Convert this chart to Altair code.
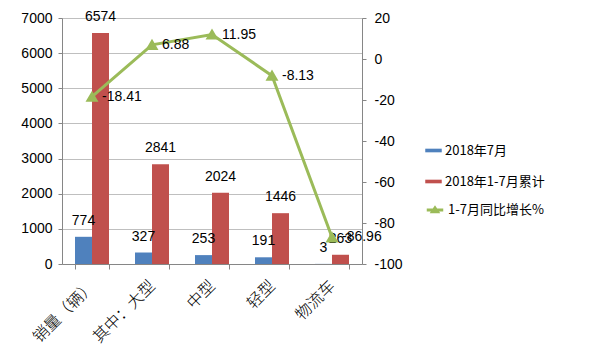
import altair as alt
import pandas as pd

categories = ["销量（辆）", "其中：大型", "中型", "轻型", "物流车"]
july_2018 = [774, 327, 253, 191, 3]
cum_2018 = [6574, 2841, 2024, 1446, 263]
growth = [-18.41, 6.88, 11.95, -8.13, -86.96]
series_names = ["2018年7月", "2018年1-7月累计"]
line_name = "1-7月同比增长%"

bar_rows = []
for c, a, b in zip(categories, july_2018, cum_2018):
    bar_rows.append({"cat": c, "series": series_names[0], "value": a})
    bar_rows.append({"cat": c, "series": series_names[1], "value": b})
bars_df = pd.DataFrame(bar_rows)
line_df = pd.DataFrame({"cat": categories, "growth": growth, "series": [line_name] * len(categories),
                        "label": [f"{g:.2f}" for g in growth]})

GRID = "#BFBFBF"
AXIS = "#868686"
NUM_FONT = "Liberation Sans"
CJK_FONT = "Noto Sans CJK SC"

xscale = alt.Scale(domain=categories, paddingInner=0.4333, paddingOuter=0.2167)
xaxis = alt.Axis(title=None, labelAngle=-45, labelAlign="right", labelBaseline="middle",
                 labelFont=CJK_FONT, labelFontSize=16, labelFontWeight=300, labelColor="#000000",
                 tickBand="extent", tickSize=5, tickColor=AXIS, domainColor=AXIS,
                 labelPadding=14, grid=False)
x_enc = alt.X("cat:N", sort=categories, scale=xscale, axis=xaxis)
xoff = alt.XOffset("series:N", sort=series_names, scale=alt.Scale(paddingInner=0, paddingOuter=0))

yleft = alt.Y("value:Q", scale=alt.Scale(domain=[0, 7000], nice=False),
              axis=alt.Axis(title=None, values=list(range(0, 7001, 1000)), orient="left",
                            labelExpr="toString(datum.value)",
                            labelFont=NUM_FONT, labelFontSize=14, labelColor="#000000",
                            gridColor=GRID, domainColor=AXIS, tickColor=AXIS, tickSize=4,
                            labelPadding=6))

bars = alt.Chart(bars_df).mark_bar(stroke=None).encode(
    x=x_enc, xOffset=xoff, y=yleft,
    fill=alt.Fill("series:N", sort=series_names,
                  scale=alt.Scale(domain=series_names, range=["#4F81BD", "#C0504D"]),
                  legend=alt.Legend(title=None, orient="none", legendX=363, legendY=124,
                                    symbolType="M-1,-0.22H1V0.22H-1Z", symbolSize=272,
                                    labelFont=CJK_FONT, labelFontSize=13, labelColor="#000000",
                                    rowPadding=15, padding=0, labelOffset=3, symbolStrokeWidth=0))
)

bar_text = alt.Chart(bars_df).mark_text(baseline="bottom", dy=-9, font=NUM_FONT, fontSize=14,
                                        color="#000000").encode(
    x=x_enc, xOffset=xoff,
    y=alt.Y("value:Q", scale=alt.Scale(domain=[0, 7000], nice=False), axis=None),
    text="value:Q"
)

yright = alt.Y("growth:Q", scale=alt.Scale(domain=[-100, 20], nice=False),
               axis=alt.Axis(title=None, values=list(range(-100, 21, 20)), orient="right",
                             labelExpr="toString(datum.value)",
                             labelFont=NUM_FONT, labelFontSize=14, labelColor="#000000",
                             grid=False, domainColor=AXIS, tickColor=AXIS, tickSize=4,
                             labelPadding=8))

line = alt.Chart(line_df).mark_line(strokeWidth=3,
                                    point=alt.OverlayMarkDef(shape="triangle-up", size=90, filled=True,
                                                             color="#9BBB59")).encode(
    x=x_enc, y=yright,
    stroke=alt.Stroke("series:N", scale=alt.Scale(domain=[line_name], range=["#9BBB59"]),
                      legend=alt.Legend(title=None, orient="none", legendX=363, legendY=182,
                                        symbolType="M-1,0H1M-0.3,0.2L0,-0.25L0.3,0.2Z", symbolSize=272,
                                        symbolStrokeWidth=3, symbolFillColor="#9BBB59",
                                        labelFont=CJK_FONT, labelFontSize=13, labelColor="#000000",
                                        padding=0, labelOffset=3))
)

line_text = alt.Chart(line_df).mark_text(align="left", baseline="middle", dx=10, font=NUM_FONT,
                                         fontSize=14, color="#000000").encode(
    x=x_enc,
    y=alt.Y("growth:Q", scale=alt.Scale(domain=[-100, 20], nice=False), axis=None),
    text="label:N"
)

chart = alt.layer(bars, bar_text, line, line_text).resolve_scale(
    y="independent", fill="independent", stroke="independent"
).properties(
    width=300, height=246,
    autosize=alt.AutoSizeParams(type="none"),
    padding={"left": 54, "top": 10, "right": 230, "bottom": 87},
).configure_view(stroke=None).configure(background="#FFFFFF")

chart.save("out.html", embed_options={"renderer": "svg", "actions": False})
